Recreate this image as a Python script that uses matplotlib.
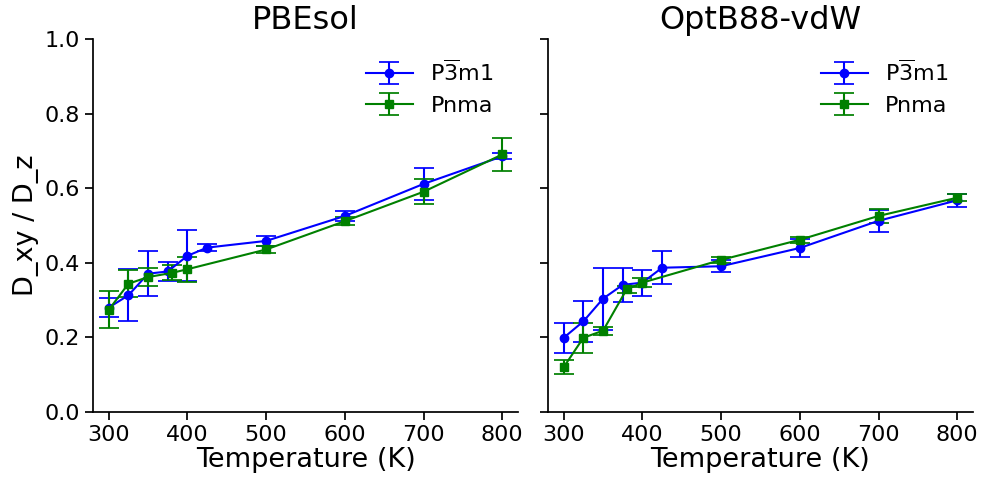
import matplotlib
matplotlib.use('Agg')
import matplotlib.pyplot as plt

# PBEsol
T_p3m1 = [300, 325, 350, 375, 400, 425, 500, 600, 700, 800]
T_pnma = [300, 325, 350, 380, 400, 500, 600, 700, 800]
pbesol_p3m1 = [0.279, 0.312, 0.370, 0.376, 0.418, 0.440, 0.458, 0.525, 0.611, 0.685]
pbesol_p3m1_err = [0.025, 0.070, 0.060, 0.025, 0.068, 0.009, 0.013, 0.013, 0.044, 0.008]
pbesol_pnma = [0.273, 0.343, 0.361, 0.372, 0.382, 0.435, 0.511, 0.590, 0.690]
pbesol_pnma_err = [0.050, 0.036, 0.023, 0.020, 0.033, 0.010, 0.010, 0.034, 0.045]

# OptB88-vdW
optb_p3m1 = [0.198, 0.242, 0.303, 0.340, 0.346, 0.386, 0.390, 0.439, 0.512, 0.567]
optb_p3m1_err = [0.040, 0.055, 0.083, 0.046, 0.035, 0.045, 0.016, 0.024, 0.030, 0.018]
optb_pnma = [0.119, 0.198, 0.217, 0.328, 0.346, 0.407, 0.461, 0.525, 0.574]
optb_pnma_err = [0.019, 0.040, 0.011, 0.010, 0.012, 0.008, 0.008, 0.020, 0.010]

titles = ['PBEsol', 'OptB88-vdW']
xticks = [300, 400, 500, 600, 700, 800]
yticks = [0.0, 0.2, 0.4, 0.6, 0.8, 1.0]

plt.rcParams['axes.linewidth'] = 1.25
plt.rcParams['xtick.major.width'] = 1.25
plt.rcParams['ytick.major.width'] = 1.25
plt.rcParams['xtick.major.size'] = 6
plt.rcParams['ytick.major.size'] = 6

fig = plt.figure(figsize=(9.82, 4.8), dpi=100)
ax1 = fig.add_axes([0.0947, 0.1427, 0.4328, 0.776])
ax2 = fig.add_axes([0.558, 0.1427, 0.4328, 0.776])

datasets = [
    (pbesol_p3m1, pbesol_p3m1_err, pbesol_pnma, pbesol_pnma_err),
    (optb_p3m1, optb_p3m1_err, optb_pnma, optb_pnma_err),
]

for ax, title, (p3, p3e, pn, pne) in zip([ax1, ax2], titles, datasets):
    ax.errorbar(T_p3m1, p3, yerr=p3e, color='blue', marker='o', markersize=6,
                linewidth=1.5, capsize=7, elinewidth=1.5, capthick=1.25,
                label=r'P$\overline{3}$m1')
    ax.errorbar(T_pnma, pn, yerr=pne, color='green', marker='s', markersize=5.5,
                linewidth=1.5, capsize=7, elinewidth=1.5, capthick=1.25,
                label='Pnma')
    ax.set_xlim(280, 820)
    ax.set_ylim(0, 1.0)
    ax.set_xticks(xticks)
    ax.set_yticks(yticks)
    ax.tick_params(labelsize=16)
    ax.set_title(title, fontsize=23, pad=7)
    ax.set_xlabel('Temperature (K)', fontsize=19.5, labelpad=2)
    ax.spines['top'].set_visible(False)
    ax.spines['right'].set_visible(False)
    ax.legend(loc='upper right', frameon=False, fontsize=16, handlelength=2.1,
              bbox_to_anchor=(0.99, 1.0))

ax1.set_ylabel('D_xy / D_z', fontsize=19.5)
ax2.set_yticklabels([])

fig.savefig('out.png', dpi=100)
